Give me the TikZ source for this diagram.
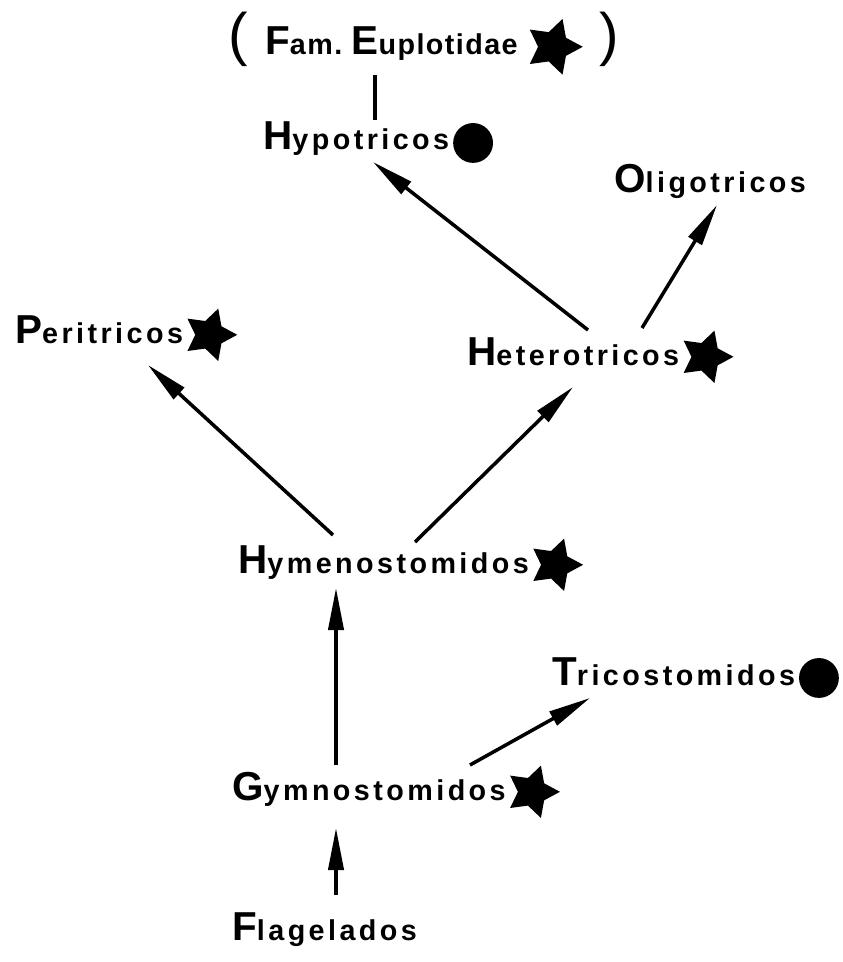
\documentclass[tikz,border=0pt]{standalone}
\usepackage{fontspec}
\newfontfamily\taxfont{Liberation Sans}[LetterSpace=12]
\newfontfamily\famfont{Liberation Sans}[LetterSpace=5]
\usetikzlibrary{arrows.meta,shapes.geometric,calc,positioning}
\newcommand\taxon[2]{{\fontsize{34.5}{36}\selectfont #1}{\fontsize{24.5}{26}\selectfont #2}}

\begin{document}
\begin{tikzpicture}[x=0.03cm, y=-0.03cm,
  taxon/.style={anchor=base west, inner sep=0pt, font=\taxfont\bfseries},
  starmark/.style={star, star points=5, star point ratio=1.9, fill=black, inner sep=0pt, minimum size=47pt, shape border rotate=-90, yshift=7pt},
  dotmark/.style={circle, fill=black, inner sep=0pt, minimum size=34pt, yshift=6pt},
  paren/.style={inner sep=0pt, font=\taxfont\fontsize{50}{52}\selectfont},
  link/.style={line width=3pt},
  arr/.style={link, -{Triangle[length=36pt, width=13pt]}}]
  \useasboundingbox (0,0) rectangle (842,962);

  % top: family in brackets
  \node[taxon, font=\famfont\bfseries] (fam) at (265,55) {\taxon{F}{am.}\hspace{8pt}\taxon{E}{uplotidae}};
  \node[starmark, minimum size=50pt, right=17pt of fam.base east] (fam-m) {};
  \node[paren] (lpar) at (238,39) {(};
  \node[paren] (rpar) at (609,39) {)};

  % groups
  \node[taxon] (hypo) at (263,150) {\taxon{H}{ypotricos}};
  \node[dotmark, right=3pt of hypo.base east] (hypo-m) {};
  \node[taxon] (oligo) at (614,193) {\taxon{O}{ligotricos}};
  \node[taxon] (peri) at (15,343) {\taxon{P}{eritricos}};
  \node[starmark, right=10pt of peri.base east] (peri-m) {};
  \node[taxon] (hetero) at (467,365) {\taxon{H}{eterotricos}};
  \node[starmark, right=10pt of hetero.base east] (hetero-m) {};
  \node[taxon] (hymeno) at (238,573) {\taxon{H}{ymenostomidos}};
  \node[starmark, right=10pt of hymeno.base east] (hymeno-m) {};
  \node[taxon] (trico) at (552,685) {\taxon{T}{ricostomidos}};
  \node[dotmark, right=3pt of trico.base east] (trico-m) {};
  \node[taxon] (gymno) at (232,800) {\taxon{G}{ymnostomidos}};
  \node[starmark, right=10pt of gymno.base east] (gymno-m) {};
  \node[taxon] (flag) at (232,940) {\taxon{F}{lagelados}};

  % links
  \draw[link] ($(fam.base west)+(110,20)$) -- ($(hypo.base west)+(112,-30)$);
  \draw[arr] ($(hetero.base west)+(121,-35)$) -- ($(hypo.base west)+(110,12)$);
  \draw[arr] ($(hetero.base west)+(175,-37)$) -- ($(oligo.base west)+(103,12)$);
  \draw[arr] ($(hymeno.base west)+(95,-38)$) -- ($(peri.base west)+(133,22)$);
  \draw[arr] ($(hymeno.base west)+(177,-31)$) -- ($(hetero.base west)+(106,22)$);
  \draw[arr] ($(gymno.base west)+(104,-35)$) -- ($(hymeno.base west)+(98,15)$);
  \draw[arr] ($(gymno.base west)+(238,-35)$) -- ($(trico.base west)+(38,13)$);
  \draw[arr] ($(flag.base west)+(104,-45)$) -- ($(gymno.base west)+(104,28)$);
\end{tikzpicture}
\end{document}
